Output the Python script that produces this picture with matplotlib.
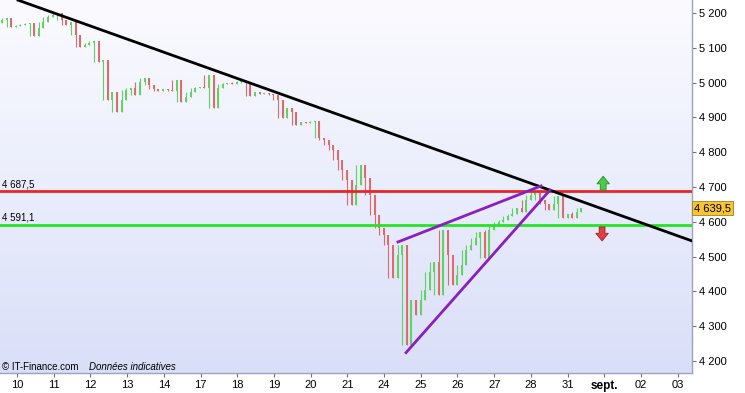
import matplotlib.pyplot as plt
import numpy as np
from matplotlib.colors import LinearSegmentedColormap

plt.rcParams['font.family'] = ['Liberation Sans', 'DejaVu Sans']

# clôtures intraday (une barre ~ 1/8 de séance)
closes = [5180, 5186, 5160, 5163, 5166, 5168, 5171, 5134, 5157, 5174,
          5189, 5194, 5200, 5180, 5166, 5174, 5137, 5102, 5108, 5114,
          5120, 5059, 5065, 4950, 4973, 4915, 4950, 4979, 4984, 4964,
          5002, 5013, 4993, 4982, 4976, 4982, 4979, 4976, 5007, 4944,
          4959, 4973, 4984, 4987, 4984, 5022, 4927, 4984, 4996, 4999,
          4996, 5002, 5005, 4999, 4961, 4973, 4967, 4970, 4967, 4964,
          4950, 4898, 4927, 4915, 4878, 4887, 4884, 4887, 4890, 4841,
          4835, 4821, 4806, 4778, 4749, 4720, 4648, 4706, 4763, 4726,
          4677, 4619, 4582, 4562, 4533, 4438, 4504, 4533, 4246, 4375,
          4332, 4375, 4404, 4456, 4484, 4390, 4576, 4504, 4418, 4447,
          4476, 4519, 4533, 4553, 4571, 4496, 4576, 4588, 4599, 4605,
          4617, 4622, 4640, 4628, 4663, 4677, 4686, 4663, 4651, 4634,
          4651, 4674, 4611, 4622, 4611, 4628, 4639.5]
first_open = 5170
day_labels = ['10', '11', '12', '13', '14', '17', '18', '19', '20', '21',
              '24', '25', '26', '27', '28', '31', 'sept.', '02', '03']
y_ticks = [4200, 4300, 4400, 4500, 4600, 4700, 4800, 4900, 5000, 5100, 5200]
resistance = 4687.5
support = 4591.1
last_price = 4639.5
# droites tracées (jour, cours)
trend_black = ([0.03, 18.39], [5237, 4545])
wedge_top = ([10.38, 14.28], [4542, 4703])
wedge_bottom = ([10.6, 14.52], [4224, 4691])
arrow_up = (15.97, 4691, 4731)
arrow_down = (15.94, 4585, 4545)

fig = plt.figure(figsize=(7.45, 3.93), dpi=100)
ax = fig.add_axes([0, 20 / 393, 692 / 745, 373 / 393])

xmin, xmax = -0.463, 18.39
ymin, ymax = 4165.4, 5237.4

# fond dégradé
grad = np.linspace(0, 1, 256).reshape(-1, 1)
cm = LinearSegmentedColormap.from_list('bg', ['#d9dff8', '#fbfbff'])
ax.imshow(grad, extent=[xmin, xmax, ymin, ymax], origin='lower', aspect='auto',
          cmap=cm, zorder=0)

x = -0.409 + np.arange(len(closes)) * 0.1253
opens = [first_open] + closes[:-1]
nexts = closes[1:] + [closes[-1]]
for xi, o, c, n in zip(x, opens, closes, nexts):
    col = '#5fd35f' if c >= o else '#dc6a6a'
    ax.vlines(xi, min(o, c, n), max(o, c, n), color=col, lw=0.8, zorder=2)
    ax.vlines(xi, min(o, c), max(o, c), color=col, lw=1.4, zorder=2)

ax.axhline(resistance, color='#e8262a', lw=2, zorder=3)
ax.axhline(support, color='#22e622', lw=2, zorder=3)
ax.plot(*trend_black, color='black', lw=2, zorder=4)
ax.plot(*wedge_top, color='#8a1fc0', lw=2, zorder=4)
ax.plot(*wedge_bottom, color='#8a1fc0', lw=2, zorder=4)

ax.text(-0.42, resistance + 6, '4 687,5', fontsize=7, va='bottom', ha='left')
ax.text(-0.42, support + 6, '4 591,1', fontsize=7, va='bottom', ha='left')

# flèches
style = 'simple,head_width=0.9,head_length=0.55,tail_width=0.42'
ax.annotate('', xy=(arrow_up[0], arrow_up[2]), xytext=(arrow_up[0], arrow_up[1]),
            arrowprops=dict(arrowstyle=style, fc='#4cc84c', ec='#2a8a2a', lw=0.6,
                            shrinkA=0, shrinkB=0), zorder=5)
ax.annotate('', xy=(arrow_down[0], arrow_down[2]), xytext=(arrow_down[0], arrow_down[1]),
            arrowprops=dict(arrowstyle=style, fc='#e04040', ec='#a02020', lw=0.6,
                            shrinkA=0, shrinkB=0), zorder=5)

ax.text(-0.42, 4182, '© IT-Finance.com', fontsize=7, va='center', ha='left')
ax.text(1.95, 4182, 'Données indicatives', fontsize=7, va='center', ha='left',
        style='italic')

ax.set_xlim(xmin, xmax)
ax.set_ylim(ymin, ymax)

ax.set_xticks(range(len(day_labels)))
ax.set_xticklabels(day_labels, fontsize=8)
for lab in ax.get_xticklabels():
    if lab.get_text() == 'sept.':
        lab.set_fontweight('bold')
        lab.set_fontsize(8.5)
ax.yaxis.tick_right()
ax.set_yticks(y_ticks)
ax.set_yticklabels([f'{v // 1000} {v % 1000:03d}' for v in y_ticks], fontsize=8)
ax.tick_params(axis='both', length=3, width=0.8, color='#707070', pad=2)

for s in ['top', 'left']:
    ax.spines[s].set_visible(False)
for s in ['bottom', 'right']:
    ax.spines[s].set_color('#9aa3c6')
    ax.spines[s].set_linewidth(1)

ax.text(xmax + 0.05, last_price, '4 639,5', fontsize=8, va='center', ha='left',
        bbox=dict(boxstyle='square,pad=0.2', fc='#f7c531', ec='#a08020', lw=0.6),
        clip_on=False, zorder=6)

fig.savefig('out.png', dpi=100)
